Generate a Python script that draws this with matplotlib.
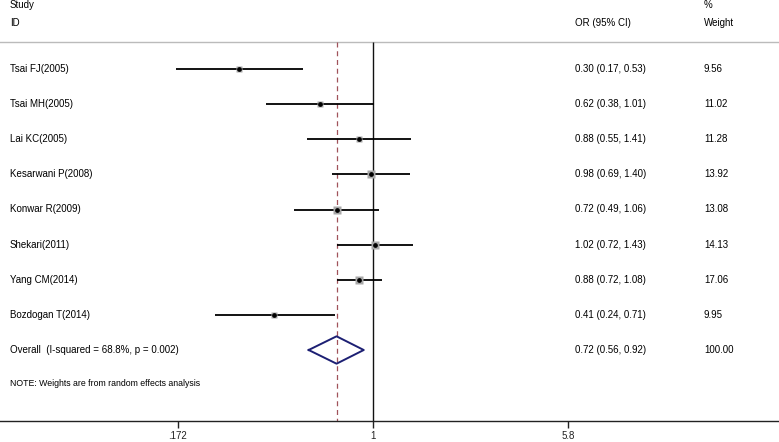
import numpy as np
import matplotlib
matplotlib.use("Agg")
import matplotlib.pyplot as plt
import matplotlib.transforms as mtransforms

plt.rcParams['font.family'] = ['Liberation Sans', 'DejaVu Sans']

studies = ["Tsai FJ(2005)", "Tsai MH(2005)", "Lai KC(2005)", "Kesarwani P(2008)",
           "Konwar R(2009)", "Shekari(2011)", "Yang CM(2014)", "Bozdogan T(2014)"]
or_vals = [0.30, 0.62, 0.88, 0.98, 0.72, 1.02, 0.88, 0.41]
ci_low = [0.17, 0.38, 0.55, 0.69, 0.49, 0.72, 0.72, 0.24]
ci_high = [0.53, 1.01, 1.41, 1.40, 1.06, 1.43, 1.08, 0.71]
weights = [9.56, 11.02, 11.28, 13.92, 13.08, 14.13, 17.06, 9.95]
overall_label = "Overall  (I-squared = 68.8%, p = 0.002)"
overall_or, overall_low, overall_high = 0.72, 0.56, 0.92
overall_weight = "100.00"
xticks = [0.172, 1, 5.8]
xtick_labels = [".172", "1", "5.8"]
note = "NOTE: Weights are from random effects analysis"

W, H = 779, 442
fig = plt.figure(figsize=(W / 100, H / 100), dpi=100)
ax_bottom_px = 421
ax = fig.add_axes([0, (H - ax_bottom_px) / H, 1, ax_bottom_px / H])
ax.set_xscale('log')

# x-limits: 1 at px 373, 255.5 px per decade
ppd = 255.5
xl = 10 ** (-373 / ppd)
xr = 10 ** ((W - 373) / ppd)
ax.set_xlim(xl, xr)

row0_px, row_sp = 69, 35.125
y_top = -row0_px / row_sp
y_bot = (ax_bottom_px - row0_px) / row_sp
ax.set_ylim(y_bot, y_top)

for s in ['top', 'left', 'right']:
    ax.spines[s].set_visible(False)
ax.spines['bottom'].set_linewidth(1.0)
ax.spines['bottom'].set_color('#222222')
ax.set_yticks([])
ax.set_xticks(xticks)
ax.set_xticklabels(xtick_labels, fontsize=7)
ax.minorticks_off()
ax.tick_params(axis='x', direction='out', length=5, width=1, pad=2, colors='#222222')

line_y = (42 - row0_px) / row_sp
ax.axhline(line_y, color='#bbbbbb', lw=1.0)

# reference lines
ax.vlines(1, line_y, y_bot, color='#111111', lw=1.0)
ax.vlines(overall_or, line_y, y_bot, color='#a0525a', lw=0.9, linestyles=(0, (4, 3)))

rows = np.arange(len(studies))
for i in rows:
    ax.hlines(i, ci_low[i], ci_high[i], color='black', lw=1.3, zorder=3)
    ax.plot(or_vals[i], i, marker='s', ms=np.sqrt(weights[i]) * 1.5,
            color='#a8a8a8', mec='none', zorder=4)
    ax.plot(or_vals[i], i, marker='o', ms=2.4, color='black', zorder=5)

# overall diamond
yo = len(studies)
dh = 0.39
ax.plot([overall_low, overall_or, overall_high, overall_or, overall_low],
        [yo, yo - dh, yo, yo + dh, yo], color='#1c1f73', lw=1.4, zorder=4)

trans = mtransforms.blended_transform_factory(ax.transAxes, ax.transData)
fs = 7
x_lab, x_or, x_w = 10 / W, 575 / W, 704 / W
for i in rows:
    ax.text(x_lab, i, studies[i], transform=trans, fontsize=fs, va='center')
    ax.text(x_or, i, f"{or_vals[i]:.2f} ({ci_low[i]:.2f}, {ci_high[i]:.2f})",
            transform=trans, fontsize=fs, va='center')
    ax.text(x_w, i, f"{weights[i]:.2f}", transform=trans, fontsize=fs, va='center')
ax.text(x_lab, yo, overall_label, transform=trans, fontsize=fs, va='center')
ax.text(x_or, yo, f"{overall_or:.2f} ({overall_low:.2f}, {overall_high:.2f})",
        transform=trans, fontsize=fs, va='center')
ax.text(x_w, yo, overall_weight, transform=trans, fontsize=fs, va='center')

y_h1 = (5 - row0_px) / row_sp
y_h2 = (23 - row0_px) / row_sp
ax.text(x_lab, y_h1, "Study", transform=trans, fontsize=fs, va='center')
ax.text(x_lab, y_h2, "ID", transform=trans, fontsize=fs, va='center')
ax.text(x_or, y_h2, "OR (95% CI)", transform=trans, fontsize=fs, va='center')
ax.text(x_w, y_h1, "%", transform=trans, fontsize=fs, va='center')
ax.text(x_w, y_h2, "Weight", transform=trans, fontsize=fs, va='center')

y_note = (383 - row0_px) / row_sp
ax.text(x_lab, y_note, note, transform=trans, fontsize=6.3, va='center')

fig.savefig("out.png", dpi=100)
